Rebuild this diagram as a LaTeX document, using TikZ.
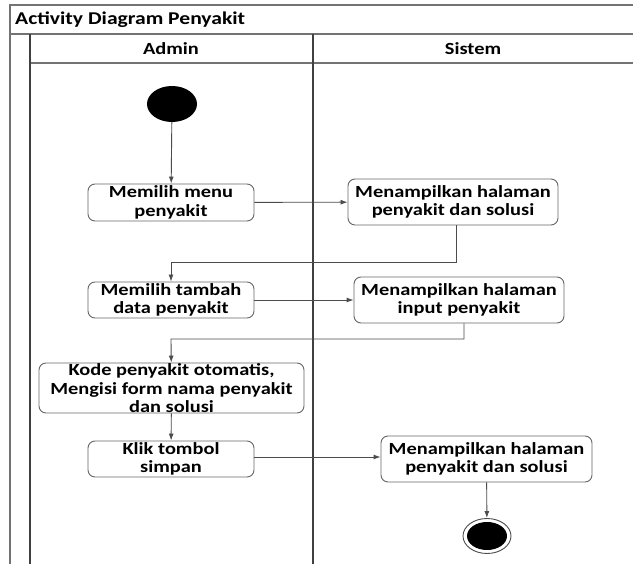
\documentclass[tikz,border=0pt]{standalone}
\usepackage{fontspec}
\setmainfont{Carlito}[FakeStretch=1.2]
\usetikzlibrary{arrows.meta,shapes.geometric}
\begin{document}
\begin{tikzpicture}[x=1pt,y=-1pt,
  frame/.style={draw=black!55,line width=1.3pt},
  lane/.style={draw=black!75,line width=1.3pt},
  act/.style={draw=black!60,line width=0.9pt,rounded corners=7pt,align=center,
    font=\bfseries\fontsize{17}{18.5}\selectfont,inner sep=0pt},
  flow/.style={draw=black!70,line width=0.9pt,-{Latex[length=7pt,width=5pt]}},
  lbl/.style={font=\bfseries\fontsize{17}{19}\selectfont,inner sep=0pt}]
\useasboundingbox (0,0) rectangle (633,564);
\fill[white] (0,0) rectangle (633,564);
% swimlane frame
\draw[frame] (10,564) -- (10,5) -- (633,5);
\draw[frame] (10,34) -- (633,34);
\draw[frame] (30,63) -- (633,63);
\draw[lane] (30,34) -- (30,564);
\draw[lane] (313,34) -- (313,564);
\node[lbl,anchor=west,font=\bfseries\fontsize{18}{20}\selectfont] (title) at (15,20) {Activity Diagram Penyakit};
\node[lbl] (hadmin) at (171,49) {Admin};
\node[lbl] (hsistem) at (473,49) {Sistem};
% activities
\node[ellipse,fill=black,minimum width=50pt,minimum height=36pt,inner sep=0pt] (start) at (172,104) {};
\node[act,minimum width=166pt,minimum height=37pt] (a1) at (171,202.5) {Memilih menu\\penyakit};
\node[act,minimum width=210pt,minimum height=46pt] (s1) at (453,202) {Menampilkan halaman\\penyakit dan solusi};
\node[act,minimum width=166pt,minimum height=36pt] (a2) at (171,300) {Memilih tambah\\data penyakit};
\node[act,minimum width=210pt,minimum height=46pt] (s2) at (459,300) {Menampilkan halaman\\input penyakit};
\node[act,minimum width=265pt,minimum height=50pt] (a3) at (171.5,388) {};
\node[lbl,align=center,font=\bfseries\fontsize{17}{18.5}\selectfont] (a3t) at (171.5,388.5) {Kode penyakit otomatis,\\Mengisi form nama penyakit\\dan solusi};
\node[act,minimum width=166pt,minimum height=36pt] (a4) at (171,459) {Klik tombol\\simpan};
\node[act,minimum width=211pt,minimum height=46pt] (s3) at (486.5,459) {Menampilkan halaman\\penyakit dan solusi};
\node[ellipse,draw=black!70,line width=0.9pt,fill=white,minimum width=48pt,minimum height=35pt,inner sep=0pt] (end) at (487,536) {};
\node[ellipse,fill=black,minimum width=40pt,minimum height=28pt,inner sep=0pt] (endin) at (end.center) {};
% control flows
\draw[flow] (start) -- (a1);
\draw[flow] (a1) -- (s1);
\draw[flow] (s1.south -| 456,0) -- (456,262) -- (171,262) -- (a2);
\draw[flow] (a2) -- (s2);
\draw[flow] (s2.south -| 464,0) -- (464,339) -- (171,339) -- (a3);
\draw[flow] (a3) -- (a4);
\draw[flow] (a4.east |- 0,457) -- (s3.west |- 0,457);
\draw[flow] (s3) -- (end);
\end{tikzpicture}
\end{document}
